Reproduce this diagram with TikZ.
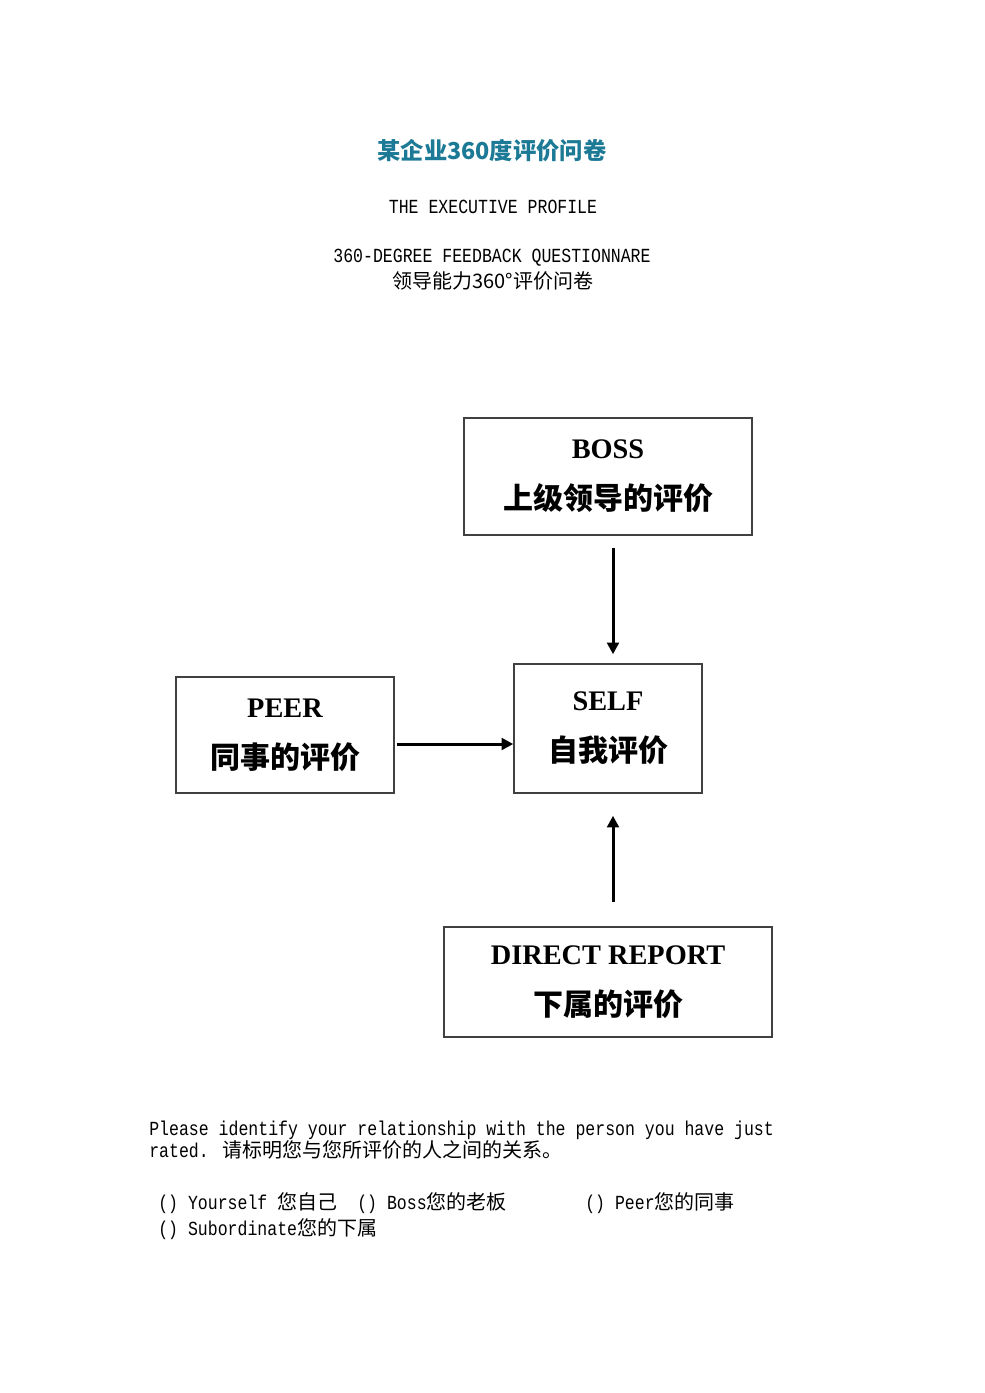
\documentclass[tikz,border=0pt]{standalone}
\usepackage{fontspec}
\setmainfont{Liberation Serif}
\newfontfamily\cjk{Noto Sans CJK SC}
\newfontfamily\mono[FakeStretch=0.826]{Liberation Mono}
\usepackage{xcolor}
\usetikzlibrary{arrows.meta,positioning}
\definecolor{titleblue}{RGB}{29,122,150}

\begin{document}
\begin{tikzpicture}[x=0.6pt, y=-0.6pt,
    every node/.style={inner sep=0pt},
    box/.style={draw=black!75, line width=0.9pt, align=center, font=\bfseries\fontsize{17}{20}\selectfont},
    arr/.style={-{Triangle[length=7pt,width=7pt]}, line width=1.8pt},
    txt/.style={font=\mono\fontsize{12}{13.2}\selectfont}]
  \fill[white] (0,0) rectangle (985,1393);
  \useasboundingbox (0,0) rectangle (985,1393);
  % heading
  \node[font=\cjk\bfseries\fontsize{14}{16}\selectfont, text=titleblue] (title) at (492,151) {某企业360度评价问卷};
  \node[txt] (profile) at (493,207) {THE EXECUTIVE PROFILE};
  \node[txt] (feedback) at (492,258) {360-DEGREE FEEDBACK QUESTIONNARE};
  \node[font=\cjk\fontsize{12}{14}\selectfont] (subtitle) at (493,281) {领导能力360°评价问卷};
  % the four boxes
  \node[box, minimum width=172.8pt, minimum height=70.2pt] (boss) at (608,476.5) {BOSS\\[10.5pt]{\cjk\fontsize{18}{20}\selectfont 上级领导的评价}};
  \node[box, minimum width=130.8pt, minimum height=69.6pt] (peer) at (285,735) {PEER\\[10.5pt]{\cjk\fontsize{18}{20}\selectfont 同事的评价}};
  \node[box, minimum width=112.8pt, minimum height=77.4pt] (self) at (608,728.5) {SELF\\[10.5pt]{\cjk\fontsize{18}{20}\selectfont 自我评价}};
  \node[box, minimum width=196.8pt, minimum height=66pt] (report) at (608,982) {DIRECT REPORT\\[10.5pt]{\cjk\fontsize{18}{20}\selectfont 下属的评价}};
  \draw[arr] ([xshift=3pt, yshift=-7.2pt]boss.south) -- ([xshift=3pt, yshift=5.4pt]self.north);
  \draw[arr] ([xshift=1.2pt, yshift=-5.4pt]peer.east) -- ([yshift=-5.4pt]peer.east -| self.west);
  \draw[arr] ([xshift=3pt, yshift=14.4pt]report.north) -- ([xshift=3pt, yshift=-13.2pt]self.south);
  % question
  \node[txt, anchor=west, align=left] (ask) at (149,1140) {Please identify your relationship with the person you have just\\rated. {\cjk 请标明您与您所评价的人之间的关系。}};
  \node[txt, anchor=west] (optself) at (158,1203) {() Yourself {\cjk 您自己}};
  \node[txt, anchor=west] (optboss) at (357,1203) {() Boss{\cjk 您的老板}};
  \node[txt, anchor=west] (optpeer) at (585,1203) {() Peer{\cjk 您的同事}};
  \node[txt, anchor=west] (optsub) at (158,1229) {() Subordinate{\cjk 您的下属}};
\end{tikzpicture}
\end{document}
